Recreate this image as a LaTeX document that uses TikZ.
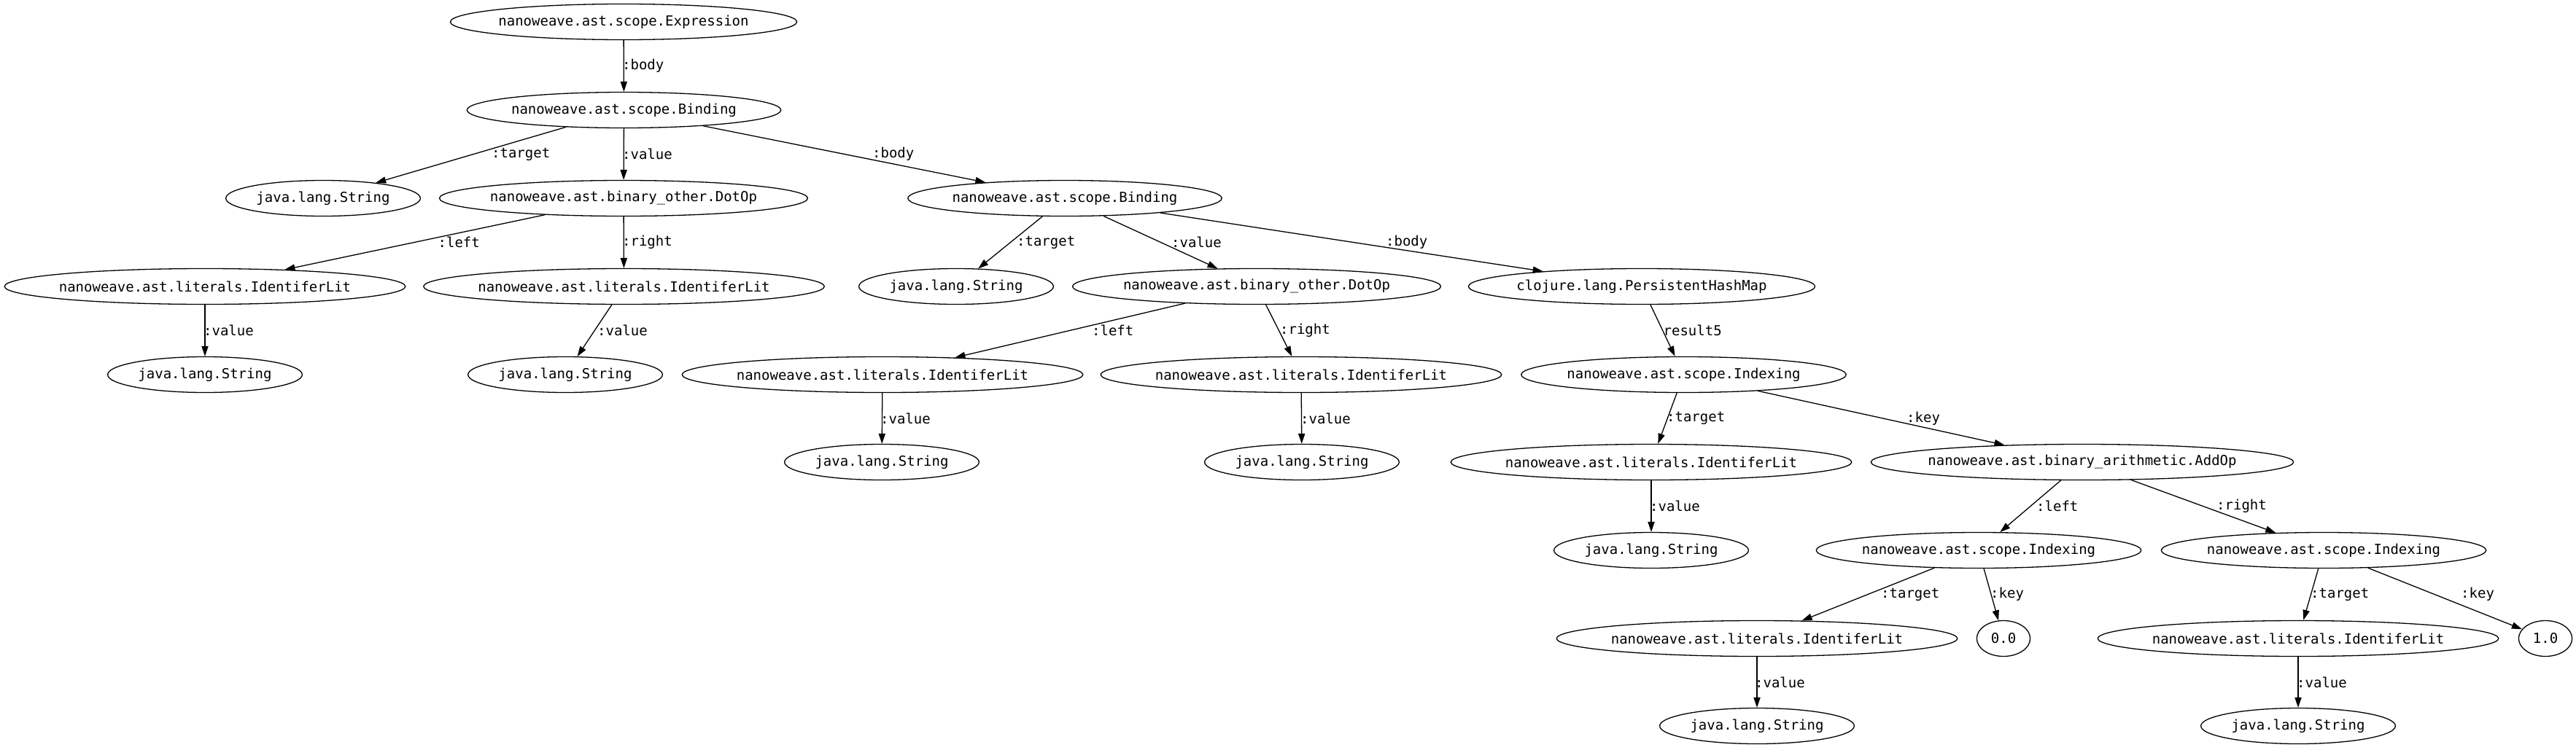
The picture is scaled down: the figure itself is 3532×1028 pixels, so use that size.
\documentclass[tikz,border=0pt]{standalone}
\usepackage{fontspec}
\newfontfamily\gv{DejaVu Sans Mono}
\usetikzlibrary{shapes.geometric,arrows.meta}
\begin{document}
\begin{tikzpicture}[x=0.5pt,y=-0.5pt,
  nd/.style={draw, ellipse, line width=0.65pt, inner sep=0pt,
    minimum height=24.5pt, minimum width={0.65*(#1*11.45+22)*1pt},
    font=\gv\fontsize{9.5}{11}\selectfont},
  lbl/.style={anchor=west, inner sep=0pt, font=\gv\fontsize{9.5}{11}\selectfont},
  edge/.style={draw, line width=0.65pt, -{Triangle[length=7pt,width=4.6pt]}}]
\fill[white] (0,0) rectangle (3532,1028);
\useasboundingbox (0,0) rectangle (3532,1028);
% row 1
\node[nd=30] (e) at (855,30) {\makebox[0pt]{nanoweave.ast.scope.Expression}};
% row 2
\node[nd=27] (b1) at (855.5,151) {\makebox[0pt]{nanoweave.ast.scope.Binding}};
% row 3
\node[nd=16] (s1) at (443,272) {\makebox[0pt]{java.lang.String}};
\node[nd=32] (d1) at (855,272) {\makebox[0pt]{nanoweave.ast.binary\_other.DotOp}};
\node[nd=27] (b2) at (1460,272) {\makebox[0pt]{nanoweave.ast.scope.Binding}};
% row 4
\node[nd=35] (i1) at (281,393) {\makebox[0pt]{nanoweave.ast.literals.IdentiferLit}};
\node[nd=35] (i2) at (855.5,393) {\makebox[0pt]{nanoweave.ast.literals.IdentiferLit}};
\node[nd=16] (s4) at (1311,393) {\makebox[0pt]{java.lang.String}};
\node[nd=32] (d2) at (1723,393) {\makebox[0pt]{nanoweave.ast.binary\_other.DotOp}};
\node[nd=30] (hm) at (2251,393) {\makebox[0pt]{clojure.lang.PersistentHashMap}};
% row 5
\node[nd=16] (s2) at (281,514) {\makebox[0pt]{java.lang.String}};
\node[nd=16] (s3) at (775,514) {\makebox[0pt]{java.lang.String}};
\node[nd=35] (i3) at (1210,514) {\makebox[0pt]{nanoweave.ast.literals.IdentiferLit}};
\node[nd=35] (i4) at (1784,514) {\makebox[0pt]{nanoweave.ast.literals.IdentiferLit}};
\node[nd=28] (x1) at (2308.5,514) {\makebox[0pt]{nanoweave.ast.scope.Indexing}};
% row 6
\node[nd=16] (s5) at (1209,634) {\makebox[0pt]{java.lang.String}};
\node[nd=16] (s6) at (1785,634) {\makebox[0pt]{java.lang.String}};
\node[nd=35] (i5) at (2264,634) {\makebox[0pt]{nanoweave.ast.literals.IdentiferLit}};
\node[nd=37] (add) at (2855,634) {\makebox[0pt]{nanoweave.ast.binary\_arithmetic.AddOp}};
% row 7
\node[nd=16] (s7) at (2264,755) {\makebox[0pt]{java.lang.String}};
\node[nd=28] (x2) at (2713,755) {\makebox[0pt]{nanoweave.ast.scope.Indexing}};
\node[nd=28] (x3) at (3186,755) {\makebox[0pt]{nanoweave.ast.scope.Indexing}};
% row 8
\node[nd=35] (i6) at (2409,876) {\makebox[0pt]{nanoweave.ast.literals.IdentiferLit}};
\node[nd=3] (zero) at (2747,876) {\makebox[0pt]{0.0}};
\node[nd=35] (i7) at (3151,876) {\makebox[0pt]{nanoweave.ast.literals.IdentiferLit}};
\node[nd=3] (one) at (3490,876) {\makebox[0pt]{1.0}};
% row 9
\node[nd=16] (s8) at (2409,996) {\makebox[0pt]{java.lang.String}};
\node[nd=16] (s9) at (3151,996) {\makebox[0pt]{java.lang.String}};
% edges
\draw[edge] (e) -- (b1) node[lbl] at (852.5,90.5) {:body};
\draw[edge] (b1) -- (s1) node[lbl] at (673.5,211.5) {:target};
\draw[edge] (b1) -- (d1) node[lbl] at (852.5,211.5) {:value};
\draw[edge] (b1) -- (b2) node[lbl] at (1195.5,211.5) {:body};
\draw[edge] (d1) -- (i1) node[lbl] at (600,332.5) {:left};
\draw[edge] (d1) -- (i2) node[lbl] at (852.5,332.5) {:right};
\draw[edge] (i1) -- (s2) node[lbl] at (278.5,453.5) {:value};
\draw[edge] (i2) -- (s3) node[lbl] at (818.5,453.5) {:value};
\draw[edge] (b2) -- (s4) node[lbl] at (1393.5,332.5) {:target};
\draw[edge] (b2) -- (d2) node[lbl] at (1605.5,332.5) {:value};
\draw[edge] (b2) -- (hm) node[lbl] at (1899.5,332.5) {:body};
\draw[edge] (d2) -- (i3) node[lbl] at (1496.5,453.5) {:left};
\draw[edge] (d2) -- (i4) node[lbl] at (1754.5,453.5) {:right};
\draw[edge] (i3) -- (s5) node[lbl] at (1206.5,574) {:value};
\draw[edge] (i4) -- (s6) node[lbl] at (1782.5,574) {:value};
\draw[edge] (hm) -- (x1) node[lbl] at (2280,453.5) {result5};
\draw[edge] (x1) -- (i5) node[lbl] at (2284.5,574) {:target};
\draw[edge] (x1) -- (add) node[lbl] at (2613.5,574) {:key};
\draw[edge] (i5) -- (s7) node[lbl] at (2261.5,694.5) {:value};
\draw[edge] (add) -- (x2) node[lbl] at (2791.5,694.5) {:left};
\draw[edge] (add) -- (x3) node[lbl] at (3038.5,694.5) {:right};
\draw[edge] (x2) -- (i6) node[lbl] at (2578.5,815.5) {:target};
\draw[edge] (x2) -- (zero) node[lbl] at (2728.5,815.5) {:key};
\draw[edge] (x3) -- (i7) node[lbl] at (3167.5,815.5) {:target};
\draw[edge] (x3) -- (one) node[lbl] at (3373.5,815.5) {:key};
\draw[edge] (i6) -- (s8) node[lbl] at (2405.5,936) {:value};
\draw[edge] (i7) -- (s9) node[lbl] at (3148.5,936) {:value};
\end{tikzpicture}
\end{document}
